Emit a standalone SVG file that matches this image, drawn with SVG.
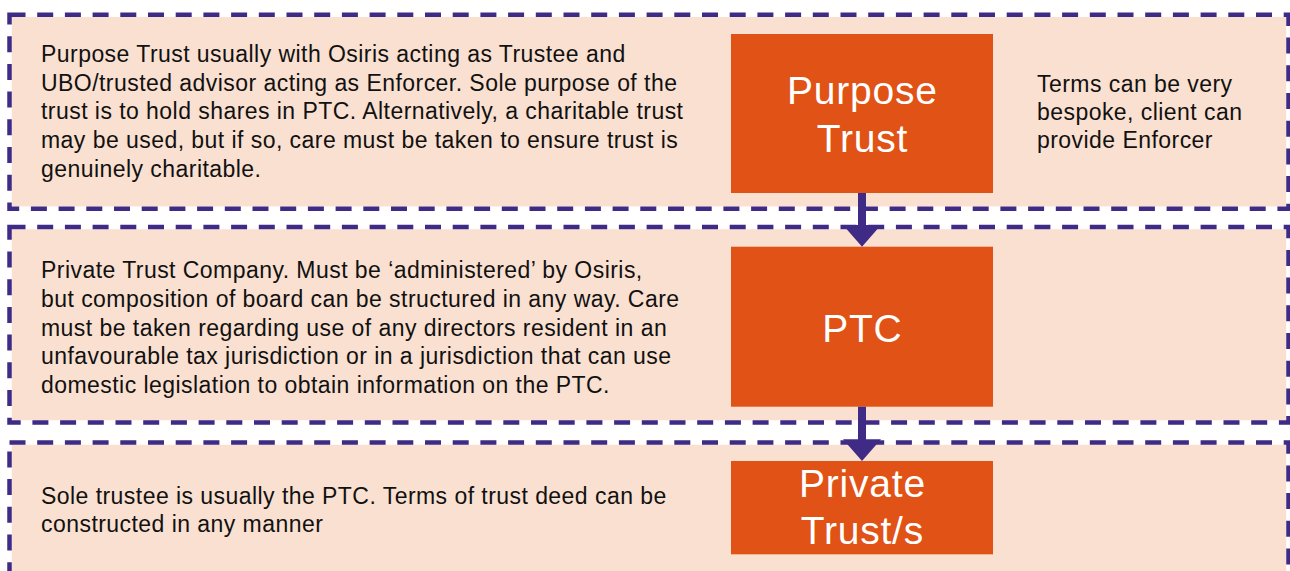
<svg xmlns="http://www.w3.org/2000/svg" width="1290" height="571" viewBox="0 0 1290 571">
  <style>
    .bg { fill: #ffffff; }
    .panelfill { fill: #FAE0D0; }
    .panel { fill: none; stroke: #3F2A86; stroke-width: 4.5; stroke-dasharray: 16 11.7; }
    .box { fill: #E05215; }
    .title { font-family: "Liberation Sans", Arial, sans-serif; font-size: 39px; letter-spacing: 0.8px; fill: #ffffff; text-anchor: middle; }
    .body { font-family: "Liberation Sans", Arial, sans-serif; font-size: 23px; letter-spacing: 0.45px; fill: #111111; }
    .shaft { stroke: #3F2A86; stroke-width: 8; fill: none; }
    .head { fill: #3F2A86; }
  </style>
  <rect class="bg" x="0" y="0" width="1290" height="571"/>

  <g id="panel-purpose">
    <rect class="panelfill" x="11.75" y="16.95" width="1274.5" height="189.5"/>
    <rect class="panel" x="9.5" y="14.7" width="1279" height="194"/>
    <text class="body" x="41" y="62">
      <tspan x="41" y="62">Purpose Trust usually with Osiris acting as Trustee and</tspan>
      <tspan x="41" y="90.7">UBO/trusted advisor acting as Enforcer. Sole purpose of the</tspan>
      <tspan x="41" y="119.4">trust is to hold shares in PTC. Alternatively, a charitable trust</tspan>
      <tspan x="41" y="148.1">may be used, but if so, care must be taken to ensure trust is</tspan>
      <tspan x="41" y="176.8">genuinely charitable.</tspan>
    </text>
    <text class="body" x="1037" y="91.7">
      <tspan x="1037" y="91.7">Terms can be very</tspan>
      <tspan x="1037" y="120">bespoke, client can</tspan>
      <tspan x="1037" y="148.3">provide Enforcer</tspan>
    </text>
  </g>

  <g id="panel-ptc">
    <rect class="panelfill" x="11.75" y="229.25" width="1274.5" height="191"/>
    <rect class="panel" x="9.5" y="227" width="1279" height="195.5"/>
    <text class="body" x="41" y="278.3">
      <tspan x="41" y="278.3">Private Trust Company. Must be ‘administered’ by Osiris,</tspan>
      <tspan x="41" y="307">but composition of board can be structured in any way. Care</tspan>
      <tspan x="41" y="335.7">must be taken regarding use of any directors resident in an</tspan>
      <tspan x="41" y="364.4">unfavourable tax jurisdiction or in a jurisdiction that can use</tspan>
      <tspan x="41" y="393.1">domestic legislation to obtain information on the PTC.</tspan>
    </text>
  </g>

  <g id="panel-private">
    <rect class="panelfill" x="11.75" y="444.75" width="1274.5" height="140"/>
    <rect class="panel" x="9.5" y="442.5" width="1279" height="160"/>
    <text class="body" x="41" y="503.5">
      <tspan x="41" y="503.5">Sole trustee is usually the PTC. Terms of trust deed can be</tspan>
      <tspan x="41" y="532.2">constructed in any manner</tspan>
    </text>
  </g>

  <g id="node-purpose-trust">
    <rect class="box" x="731" y="34" width="262" height="159"/>
    <text class="title" x="862.4" y="104">Purpose</text>
    <text class="title" x="862.4" y="151.7">Trust</text>
  </g>

  <g id="node-ptc">
    <rect class="box" x="731" y="246.7" width="262" height="160"/>
    <text class="title" x="862.4" y="341.7">PTC</text>
  </g>

  <g id="node-private-trusts">
    <rect class="box" x="731" y="461" width="262" height="93.3"/>
    <text class="title" x="862.4" y="496.7">Private</text>
    <text class="title" x="862.4" y="544">Trust/s</text>
  </g>

  <g id="connectors">
    <line class="shaft" x1="862" y1="193" x2="862" y2="226"/>
    <polygon class="head" points="843,225 881,225 862,246.7"/>
    <line class="shaft" x1="862" y1="406.7" x2="862" y2="440"/>
    <polygon class="head" points="843,439.3 881,439.3 862,461"/>
  </g>
</svg>
